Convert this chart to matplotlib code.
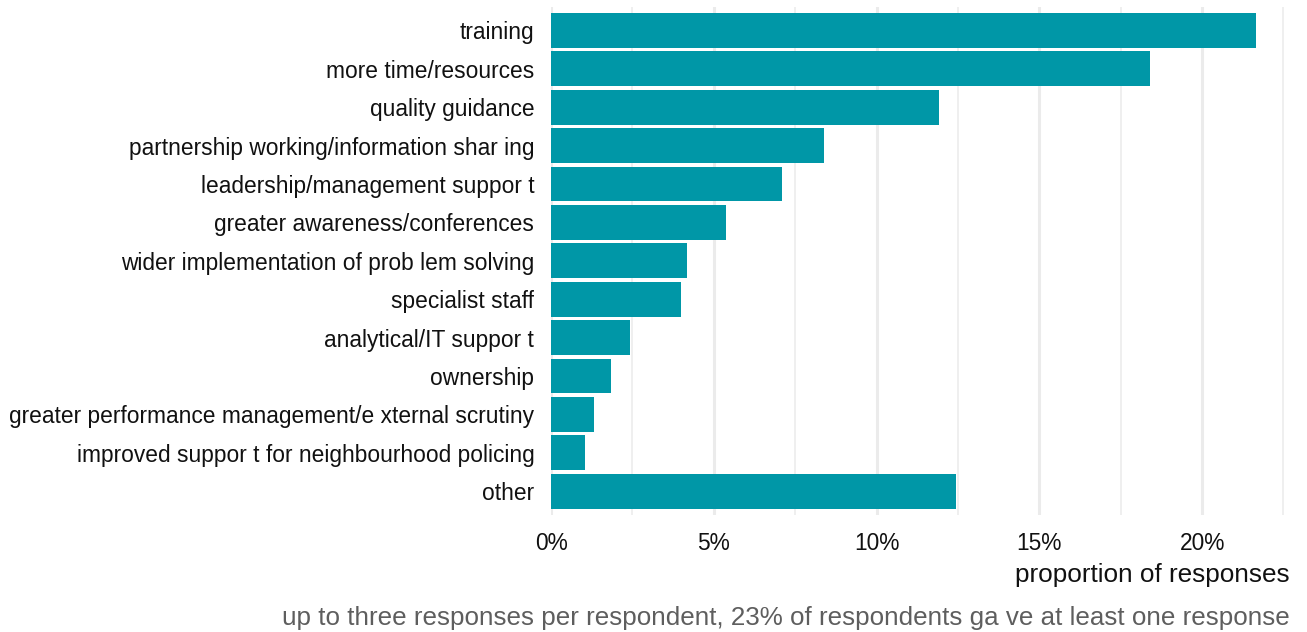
import matplotlib
matplotlib.use("Agg")
import matplotlib.pyplot as plt
from matplotlib.ticker import MultipleLocator, FuncFormatter

plt.rcParams['font.family'] = ['Liberation Sans', 'DejaVu Sans']

# categories, top to bottom (text kept as it appears in the picture)
categories = [
    "training",
    "more time/resources",
    "quality guidance",
    "partnership working/information shar ing",
    "leadership/management suppor t",
    "greater awareness/conferences",
    "wider implementation of prob lem solving",
    "specialist staff",
    "analytical/IT suppor t",
    "ownership",
    "greater performance management/e xternal scrutiny",
    "improved suppor t for neighbourhood policing",
    "other",
]
# proportion of responses, %
values = [21.66, 18.40, 11.93, 8.40, 7.09, 5.37, 4.17, 3.99, 2.42, 1.84, 1.32, 1.04, 12.45]

xticks = [0, 5, 10, 15, 20]
bar_color = "#0097a7"
grid_color = "#ebebeb"

fig = plt.figure(figsize=(13.07, 6.32), dpi=100)
ax = fig.add_axes([0.4216, 0.1851, 0.5639, 0.8038])

ypos = list(range(len(categories)))
ax.barh(ypos, values, height=0.91, color=bar_color, zorder=2)

ax.set_xlim(0, 22.64)
ax.set_ylim(12.62, -0.61)
ax.set_yticks(ypos)
ax.set_yticklabels(categories)
ax.set_xticks(xticks)
ax.xaxis.set_major_formatter(FuncFormatter(lambda v, p: f"{v:.0f}%"))
ax.xaxis.set_minor_locator(MultipleLocator(2.5))

ax.grid(axis="x", which="major", color=grid_color, linewidth=2.2, zorder=0)
ax.grid(axis="x", which="minor", color=grid_color, linewidth=1.1, zorder=0)
ax.grid(axis="y", visible=False)
for s in ax.spines.values():
    s.set_visible(False)
ax.tick_params(axis="both", which="both", length=0, labelsize=16.4, colors="#111111")
ax.tick_params(axis="x", pad=12)
ax.tick_params(axis="y", pad=12)

fig.text(0.987, 0.090, "proportion of responses", ha="right", va="center",
         fontsize=18.8, color="#111111")
fig.text(0.987, 0.022,
         "up to three responses per respondent, 23% of respondents ga ve at least one response",
         ha="right", va="center", fontsize=18.7, color="#5e5e5e")

fig.savefig("out.png", dpi=100)
